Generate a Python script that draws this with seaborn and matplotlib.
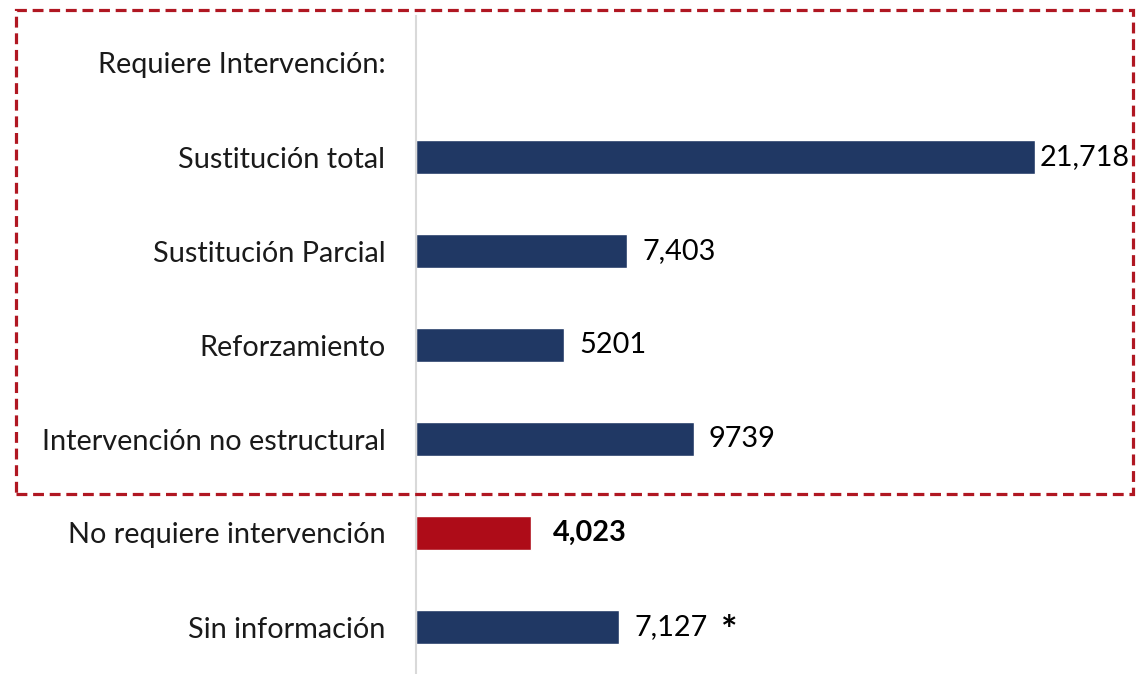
import pandas as pd
import seaborn as sns
import matplotlib.pyplot as plt
from matplotlib.patches import Rectangle

# Data
categories = [
    "Requiere Intervención:",
    "Sustitución total",
    "Sustitución Parcial",
    "Reforzamiento",
    "Intervención no estructural",
    "No requiere intervención",
    "Sin información",
]
values = [None, 21718, 7403, 5201, 9739, 4023, 7127]
value_labels = ["", "21,718", "7,403", "5201", "9739", "4,023", "7,127"]

NAVY = "#203864"
RED = "#ae0c18"
bar_colors = [NAVY, NAVY, NAVY, NAVY, NAVY, RED, NAVY]

df = pd.DataFrame({"categoria": categories, "valor": values})
df = df.dropna()

sns.set_style("white")
plt.rcParams["font.family"] = ["Lato", "DejaVu Sans"]

fig = plt.figure(figsize=(11.39, 6.74), dpi=100)
ax = fig.add_axes([416 / 1139, 0.0, 1 - 416 / 1139, (674 - 16) / 674])

sns.barplot(
    data=df,
    x="valor",
    y="categoria",
    order=categories,
    hue="categoria",
    hue_order=categories,
    palette=dict(zip(categories, bar_colors)),
    saturation=1,
    legend=False,
    orient="h",
    width=0.36,
    ax=ax,
)

ax.set_xlim(0, 25367)
ax.set_ylim(6.5, -0.5)
ax.set_xlabel("")
ax.set_ylabel("")
ax.set_xticks([])

for side in ["top", "right", "bottom"]:
    ax.spines[side].set_visible(False)
ax.spines["left"].set_color("#d9d9d9")
ax.spines["left"].set_linewidth(1.5)

FS = 20.8
ax.tick_params(axis="y", length=0, pad=22, labelsize=FS, labelcolor="#1a1a1a")

# value labels (gap in points after each bar)
gaps = {"21,718": 3, "4,023": 16}
for i, (v, lab) in enumerate(zip(values, value_labels)):
    if v is None:
        continue
    weight = "bold" if lab == "4,023" else "normal"
    ax.annotate(lab, (v, i), xytext=(gaps.get(lab, 11), 0), textcoords="offset points",
                ha="left", va="center", fontsize=FS, fontweight=weight, color="black")
    if categories[i] == "Sin información":
        ax.annotate("*", (v, i), xytext=(73, -3), textcoords="offset points",
                    ha="left", va="center", fontsize=28, fontweight="bold", color="black")

# dashed box around the "Requiere Intervención" group
box = Rectangle((16 / 1139, 1 - 494 / 674), (1133 - 16) / 1139, (494 - 10) / 674,
                transform=fig.transFigure, fill=False, edgecolor="#b01722",
                linewidth=2.3, linestyle=(0, (3.4, 1.8)), clip_on=False)
fig.patches.append(box)

plt.savefig("out.png", dpi=100)
plt.close()
